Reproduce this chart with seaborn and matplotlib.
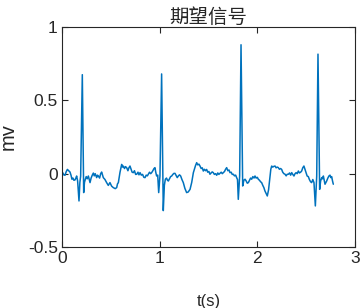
import numpy as np
import pandas as pd
import matplotlib
matplotlib.use("Agg")
import matplotlib.pyplot as plt
import seaborn as sns

# time (s) and signal (mV)
t = [0.000, 0.007, 0.018, 0.031, 0.042, 0.055, 0.068, 0.082, 0.092, 0.102, 0.112, 0.122,
     0.133, 0.142, 0.150, 0.160, 0.174, 0.183, 0.191, 0.208, 0.222, 0.230,
     0.239, 0.248, 0.258, 0.270, 0.279, 0.287, 0.298, 0.310, 0.321, 0.330, 0.340, 0.355,
     0.363, 0.372, 0.385, 0.396, 0.406, 0.415, 0.423, 0.440, 0.457, 0.474, 0.491,
     0.508, 0.525, 0.545, 0.560, 0.568, 0.577, 0.594, 0.611, 0.620, 0.628, 0.640, 0.650,
     0.662, 0.675, 0.685, 0.696, 0.708, 0.718, 0.730, 0.742, 0.754, 0.765, 0.778, 0.788,
     0.799, 0.812, 0.825, 0.838, 0.850, 0.862, 0.874, 0.884, 0.896, 0.908,
     0.918, 0.930, 0.942, 0.952, 0.960, 0.969, 0.980, 0.990, 1.003, 1.020, 1.037, 1.048,
     1.058, 1.070, 1.080, 1.089, 1.100, 1.112, 1.123, 1.135, 1.146, 1.157,
     1.170, 1.180, 1.191, 1.203, 1.215, 1.228, 1.242, 1.258, 1.276, 1.292, 1.311, 1.328,
     1.345, 1.356, 1.367, 1.379, 1.390, 1.402, 1.413, 1.425, 1.436, 1.447, 1.458, 1.470,
     1.481, 1.492, 1.504, 1.515, 1.527, 1.538, 1.549, 1.560, 1.572, 1.584, 1.595, 1.606,
     1.618, 1.630, 1.641, 1.652, 1.664, 1.675, 1.686, 1.698, 1.710, 1.720, 1.732, 1.743,
     1.754, 1.766, 1.778, 1.788, 1.797, 1.805, 1.819, 1.833,
     1.850, 1.862, 1.874, 1.886, 1.897, 1.908, 1.920, 1.931, 1.942, 1.954, 1.966, 1.976,
     1.988, 2.000, 2.010, 2.022, 2.033, 2.044, 2.056, 2.067, 2.078, 2.090, 2.102, 2.115,
     2.130, 2.138, 2.147, 2.158, 2.170, 2.181, 2.192, 2.204, 2.215, 2.226, 2.238, 2.249,
     2.260, 2.272, 2.284, 2.295, 2.306, 2.318, 2.330, 2.341, 2.352, 2.363, 2.375, 2.386,
     2.397, 2.408, 2.420, 2.431, 2.443, 2.454, 2.465, 2.477, 2.488, 2.499, 2.510, 2.522,
     2.533, 2.545, 2.556, 2.568, 2.580, 2.594, 2.608, 2.621, 2.638, 2.648, 2.659, 2.668,
     2.676, 2.685, 2.693, 2.702, 2.710, 2.722, 2.733, 2.744, 2.752, 2.761, 2.770, 2.778]
v = [0.005, 0.007, -0.008, -0.011, 0.012, 0.029, 0.020, 0.011, -0.010, -0.038, -0.030, -0.045,
     -0.043, -0.030, -0.016, -0.050, -0.186, -0.060, -0.016, 0.675, -0.129, -0.060,
     -0.038, -0.020, -0.035, -0.016, -0.040, -0.061, -0.030, -0.010, 0.004, -0.015, 0.000, -0.027,
     -0.010, -0.016, -0.030, 0.000, 0.011, -0.010, -0.027, -0.040, -0.061, -0.080, -0.061,
     -0.085, -0.095, -0.102, -0.095, -0.070, -0.061, 0.010, 0.063, 0.045, 0.052, 0.035, 0.048,
     0.041, 0.020, 0.040, 0.052, 0.030, 0.010, 0.007, 0.020, -0.005, -0.004, 0.010, -0.008,
     0.007, -0.010, -0.005, -0.025, -0.027, -0.010, -0.015, -0.004, 0.010, 0.000,
     0.007, 0.020, 0.035, 0.041, 0.010, -0.016, -0.010, -0.129, -0.016, 0.680, -0.252, -0.080,
     -0.038, -0.030, -0.045, -0.050, -0.035, -0.020, -0.016, -0.005, 0.002, 0.002,
     -0.015, -0.027, -0.016, -0.008, -0.016, -0.040, -0.061, -0.100, -0.129, -0.125, -0.107, -0.060,
     0.007, 0.030, 0.055, 0.075, 0.060, 0.065, 0.052, 0.035, 0.040, 0.018, 0.030, 0.020,
     0.029, 0.010, 0.015, -0.004, 0.005, 0.012, 0.007, -0.005, 0.000, -0.011, 0.005, -0.005,
     0.002, 0.010, 0.000, 0.007, 0.015, 0.030, 0.041, 0.020, 0.025, 0.007, 0.010, -0.005,
     -0.004, -0.015, -0.010, -0.027, -0.040, -0.175, -0.016, 0.879,
     -0.084, -0.045, -0.038, -0.050, -0.065, -0.061, -0.045, -0.030, -0.038, -0.020, -0.030, -0.016,
     -0.030, -0.025, -0.038, -0.045, -0.055, -0.061, -0.080, -0.095, -0.118, -0.135, -0.152, -0.110,
     -0.016, 0.030, 0.052, 0.045, 0.050, 0.052, 0.040, 0.045, 0.041, 0.030, 0.035, 0.029,
     0.010, 0.000, -0.004, -0.015, -0.004, -0.004, 0.005, -0.010, 0.007, -0.005, -0.016, 0.000,
     0.007, 0.000, 0.018, 0.005, 0.010, 0.018, 0.040, 0.052, 0.030, 0.010, -0.016, -0.020,
     -0.040, -0.055, -0.061, -0.040, -0.061, -0.220, -0.016, 0.815, -0.107, -0.050, -0.027, -0.035,
     -0.016, -0.045, -0.072, -0.060, -0.050, -0.030, -0.016, -0.010, -0.027, -0.020, -0.050, -0.072]

df = pd.DataFrame({"t": t, "v": v})

sns.set_style("white")
plt.rcParams['font.family'] = ['Liberation Sans', 'Noto Sans CJK SC', 'DejaVu Sans']

fig = plt.figure(figsize=(3.62, 3.08), dpi=100)
ax = fig.add_axes([62/362, 1-247/308, (355-62)/362, (247-27)/308])
sns.lineplot(data=df, x="t", y="v", ax=ax, color="#0072BD", linewidth=1.1)

ax.set_xlim(0, 3)
ax.set_ylim(-0.5, 1)
ax.set_xticks([0, 1, 2, 3])
ax.set_xticklabels(["0", "1", "2", "3"])
ax.set_yticks([-0.5, 0, 0.5, 1])
ax.set_yticklabels(["-0.5", "0", "0.5", "1"])
ec = "#262626"
for s in ax.spines.values():
    s.set_visible(True)
    s.set_color(ec)
    s.set_linewidth(0.8)
ax.tick_params(direction="in", length=4, width=0.8, colors=ec, labelsize=12.5,
               top=True, right=True, bottom=True, left=True,
               labeltop=False, labelright=False, pad=3)
ax.set_title("期望信号", fontsize=14, color=ec, pad=3,
             family=['Noto Sans CJK SC', 'DejaVu Sans'])
ax.set_ylabel("mv", fontsize=14.5, color=ec, labelpad=7)
ax.set_xlabel("t(s)", fontsize=12, color=ec, labelpad=20)

fig.savefig("out.png", dpi=100, facecolor="white")
